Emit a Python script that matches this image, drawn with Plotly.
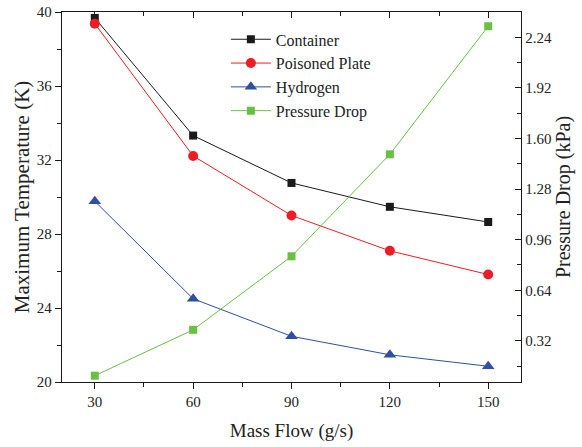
import plotly.graph_objects as go

mass_flow = [30, 60, 90, 120, 150]
container = [39.68, 33.32, 30.76, 29.47, 28.65]
poisoned_plate = [39.37, 32.22, 29.0, 27.09, 25.81]
hydrogen = [29.77, 24.5, 22.47, 21.47, 20.85]
pressure_drop = [0.10, 0.39, 0.855, 1.50, 2.31]

x_ticks = [30, 60, 90, 120, 150]
y_ticks = [20, 24, 28, 32, 36, 40]
y2_ticks = [0.32, 0.64, 0.96, 1.28, 1.60, 1.92, 2.24]
y2_labels = ["0.32", "0.64", "0.96", "1.28", "1.60", "1.92", "2.24"]

FONT = "Liberation Serif, 'Times New Roman', Times, serif"
TXT = "#222222"

fig = go.Figure()
fig.add_trace(go.Scatter(x=mass_flow, y=container, name="Container", mode="lines+markers",
                         line=dict(color="#1a1a1a", width=1),
                         marker=dict(symbol="square", size=8, color="#1a1a1a")))
fig.add_trace(go.Scatter(x=mass_flow, y=poisoned_plate, name="Poisoned Plate", mode="lines+markers",
                         line=dict(color="#ee1c24", width=1),
                         marker=dict(symbol="circle", size=10, color="#ee1c24")))
fig.add_trace(go.Scatter(x=mass_flow, y=hydrogen, name="Hydrogen", mode="lines+markers",
                         line=dict(color="#2e4fa3", width=1),
                         marker=dict(symbol="triangle-up", size=11, color="#2e4fa3")))
fig.add_trace(go.Scatter(x=mass_flow, y=pressure_drop, name="Pressure Drop", mode="lines+markers",
                         yaxis="y2",
                         line=dict(color="#6abf45", width=1),
                         marker=dict(symbol="square", size=8, color="#6abf45")))
# helper trace binding the top mirror axis
fig.add_trace(go.Scatter(x=[], y=[], xaxis="x2", yaxis="y", showlegend=False, hoverinfo="skip"))

axis_common = dict(showline=True, linecolor="#1a1a1a", linewidth=1.3, showgrid=False,
                   zeroline=False, tickcolor="#1a1a1a", tickwidth=1.2, automargin=False,
                   tickfont=dict(family=FONT, size=15, color=TXT))

fig.update_layout(
    width=582, height=447,
    margin=dict(l=62, r=61, t=12, b=65),
    plot_bgcolor="white", paper_bgcolor="white",
    font=dict(family=FONT, color=TXT),
    showlegend=True,
    legend=dict(x=0.357, y=0.972, xanchor="left", yanchor="top",
                font=dict(family=FONT, size=16, color=TXT),
                bgcolor="rgba(0,0,0,0)", itemwidth=40, tracegroupgap=0),
    xaxis=dict(range=[20, 160], tickvals=x_ticks, ticks="outside", ticklen=6,
               minor=dict(dtick=15, tick0=15, ticks="outside", ticklen=4, tickcolor="#1a1a1a"),
               title=dict(text="Mass Flow (g/s)", font=dict(family=FONT, size=19, color=TXT), standoff=14),
               **axis_common),
    xaxis2=dict(range=[20, 160], overlaying="x", side="top", anchor="y", tickvals=x_ticks,
                ticks="inside", ticklen=6, showticklabels=False,
                minor=dict(dtick=15, tick0=15, ticks="inside", ticklen=4, tickcolor="#1a1a1a"),
                **axis_common),
    yaxis=dict(range=[20, 40], tickvals=y_ticks, ticks="outside", ticklen=6,
               minor=dict(dtick=2, tick0=20, ticks="outside", ticklen=4, tickcolor="#1a1a1a"),
               title=dict(text="Maximum Temperature (K)", font=dict(family=FONT, size=21, color=TXT), standoff=1),
               **axis_common),
    yaxis2=dict(range=[0.06, 2.40], overlaying="y", side="right", anchor="x",
                tickvals=y2_ticks, ticktext=y2_labels, ticks="inside", ticklen=6,
                minor=dict(dtick=0.16, tick0=0.0, ticks="inside", ticklen=4, tickcolor="#1a1a1a"),
                title=dict(text="Pressure Drop (kPa)", font=dict(family=FONT, size=20, color=TXT), standoff=4),
                **axis_common),
)

fig.write_html("out.html", config={"displayModeBar": False},
               post_script="document.body.style.margin='0';")
